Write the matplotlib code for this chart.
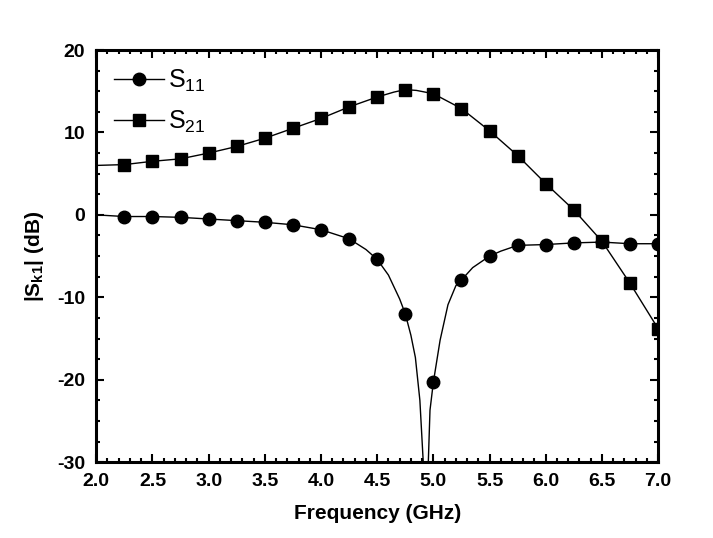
import matplotlib
matplotlib.use("Agg")
import matplotlib.pyplot as plt
from matplotlib.ticker import MultipleLocator

# marker positions (GHz) and values (dB)
freq_mk = [2.25, 2.5, 2.75, 3.0, 3.25, 3.5, 3.75, 4.0, 4.25, 4.5,
           4.75, 5.0, 5.25, 5.5, 5.75, 6.0, 6.25, 6.5, 6.75, 7.0]
s11_mk = [-0.2, -0.2, -0.3, -0.5, -0.7, -0.9, -1.2, -1.8, -2.9, -5.4,
          -12.0, -20.3, -7.9, -5.0, -3.7, -3.6, -3.4, -3.3, -3.5, -3.5]
s21_mk = [6.1, 6.5, 6.8, 7.5, 8.3, 9.3, 10.5, 11.7, 13.1, 14.3,
          15.2, 14.7, 12.9, 10.2, 7.2, 3.8, 0.6, -3.2, -8.3, -13.8]

freq_s11 = [2.0, 2.25, 2.5, 2.75, 3.0, 3.25, 3.5, 3.75, 4.0, 4.25, 4.4, 4.5,
            4.6, 4.7, 4.75, 4.8, 4.84, 4.88, 4.91, 4.93, 4.955, 4.97, 5.0,
            5.06, 5.13, 5.2, 5.25, 5.35, 5.5, 5.6, 5.75, 6.0, 6.25, 6.5, 6.75, 7.0]
s11_line = [0.0, -0.2, -0.2, -0.3, -0.5, -0.7, -0.9, -1.2, -1.8, -2.9, -4.2, -5.4,
            -7.3, -10.2, -12.0, -14.6, -17.3, -22.5, -30.0, -36.0, -30.0, -23.7, -20.3,
            -15.2, -10.9, -8.6, -7.9, -6.4, -5.0, -4.4, -3.7, -3.6, -3.4, -3.3, -3.5, -3.5]
freq_s21 = [2.0, 2.25, 2.5, 2.75, 3.0, 3.25, 3.5, 3.75, 4.0, 4.25, 4.5,
            4.65, 4.75, 4.85, 5.0, 5.25, 5.5, 5.75, 6.0, 6.25, 6.5, 6.75, 7.0]
s21_line = [6.0, 6.1, 6.5, 6.8, 7.5, 8.3, 9.3, 10.5, 11.7, 13.1, 14.3,
            14.9, 15.2, 15.1, 14.7, 12.9, 10.2, 7.2, 3.8, 0.6, -3.2, -8.3, -13.8]

plt.rcParams["font.family"] = ["Liberation Sans", "DejaVu Sans"]
plt.rcParams["axes.unicode_minus"] = False
plt.rcParams["mathtext.default"] = "regular"

fig = plt.figure(figsize=(7.13, 5.38), dpi=100)
ax = fig.add_axes([0.135, 0.141, 0.788, 0.766])

ax.plot(freq_s11, s11_line, color="black", lw=1.0)
ax.plot(freq_mk, s11_mk, "o", color="black", ms=9)
ax.plot(freq_s21, s21_line, color="black", lw=1.0)
ax.plot(freq_mk, s21_mk, "s", color="black", ms=8)

# legend handles
ax.plot([], [], "-o", color="black", ms=9, lw=1.0, label="S$_{11}$")
ax.plot([], [], "-s", color="black", ms=8, lw=1.0, label="S$_{21}$")
ax.legend(loc="upper left", frameon=False, fontsize=18, handlelength=2.0,
          borderaxespad=0.3, labelspacing=0.6, handletextpad=0.15)

ax.set_xlim(2.0, 7.0)
ax.set_ylim(-30, 20)
ax.xaxis.set_major_locator(MultipleLocator(0.5))
ax.xaxis.set_minor_locator(MultipleLocator(0.1))
ax.yaxis.set_major_locator(MultipleLocator(10))
ax.yaxis.set_minor_locator(MultipleLocator(2.5))
ax.tick_params(which="both", direction="in", top=True, right=True, width=1.5)
ax.tick_params(which="major", length=6, labelsize=14, pad=8)
ax.tick_params(which="minor", length=3)
for lab in ax.get_xticklabels() + ax.get_yticklabels():
    lab.set_fontweight("bold")
for sp in ax.spines.values():
    sp.set_linewidth(2.2)

ax.set_xlabel("Frequency (GHz)", fontsize=15, fontweight="bold", labelpad=10)
ax.set_ylabel("|S$_{k1}$| (dB)", fontsize=15, fontweight="bold", labelpad=8)

fig.savefig("out.png", dpi=100)
